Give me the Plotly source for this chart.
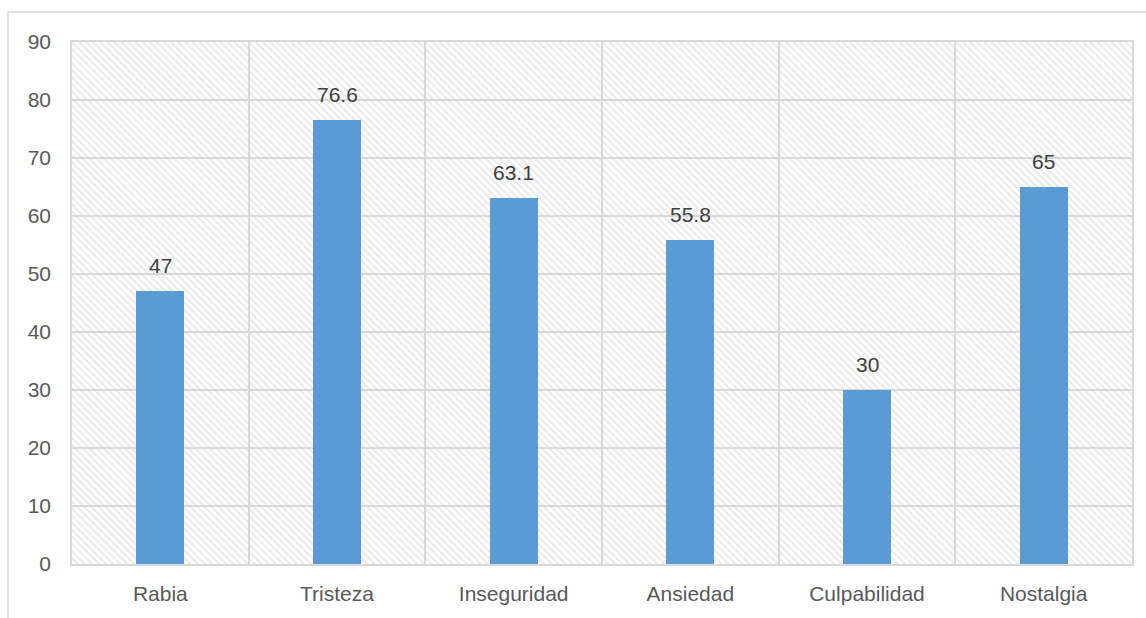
import plotly.graph_objects as go

categories = ["Rabia", "Tristeza", "Inseguridad", "Ansiedad", "Culpabilidad", "Nostalgia"]
values = [47, 76.6, 63.1, 55.8, 30, 65]
value_labels = ["47", "76.6", "63.1", "55.8", "30", "65"]
y_ticks = [0, 10, 20, 30, 40, 50, 60, 70, 80, 90]
Y_MAX = 90

W, H = 1146, 618
ML, MR, MT, MB = 72, 14, 42, 54
plot_w = W - ML - MR
plot_h = H - MT - MB

font_family = "Liberation Sans Narrow, Liberation Sans, sans-serif"

fig = go.Figure()

# hatched plot background (one full-height transparent bar per category)
fig.add_trace(go.Bar(
    x=categories, y=[Y_MAX] * len(categories), width=1,
    marker=dict(color="rgba(0,0,0,0)", line=dict(width=0),
                pattern=dict(shape="\\", fgcolor="#d3d3d3", bgcolor="rgba(0,0,0,0)",
                             size=5, solidity=0.4)),
    hoverinfo="skip", showlegend=False,
))

fig.add_trace(go.Bar(
    x=categories, y=values, width=0.27,
    marker=dict(color="#5B9BD5", line=dict(width=0)),
    showlegend=False,
))

for c, v, t in zip(categories, values, value_labels):
    fig.add_annotation(x=c, y=v, text=t, showarrow=False, yanchor="bottom", yshift=12,
                       font=dict(family=font_family, size=21, color="#404040"))

# outer chart border (extends beyond right/bottom edges)
fig.add_shape(type="rect", xref="paper", yref="paper",
              x0=(8 - ML) / plot_w, x1=(W + 20 - ML) / plot_w,
              y0=-(H + 20 - MT - plot_h) / plot_h, y1=(H - MB - 12) / plot_h,
              line=dict(color="#d9d9d9", width=1.5), fillcolor="rgba(0,0,0,0)", layer="below")

fig.update_layout(
    width=W, height=H,
    margin=dict(l=ML, r=MR, t=MT, b=MB),
    paper_bgcolor="white", plot_bgcolor="white",
    barmode="overlay", bargap=0,
    font=dict(family=font_family, size=21, color="#595959"),
    xaxis=dict(type="category", tickson="boundaries", showgrid=True, gridcolor="#d9d9d9",
               gridwidth=1.5, ticks="", showline=True, linecolor="#d9d9d9", linewidth=1.5,
               mirror=True, tickfont=dict(size=21, color="#595959"), ticklabelstandoff=10),
    yaxis=dict(range=[0, Y_MAX], tickvals=y_ticks, showgrid=True, gridcolor="#d9d9d9",
               gridwidth=1.5, zeroline=False, showline=True, linecolor="#d9d9d9", linewidth=1.5,
               mirror=True, ticks="", tickfont=dict(size=21, color="#595959"), ticklabelstandoff=15),
)

fig.write_html("out.html")
